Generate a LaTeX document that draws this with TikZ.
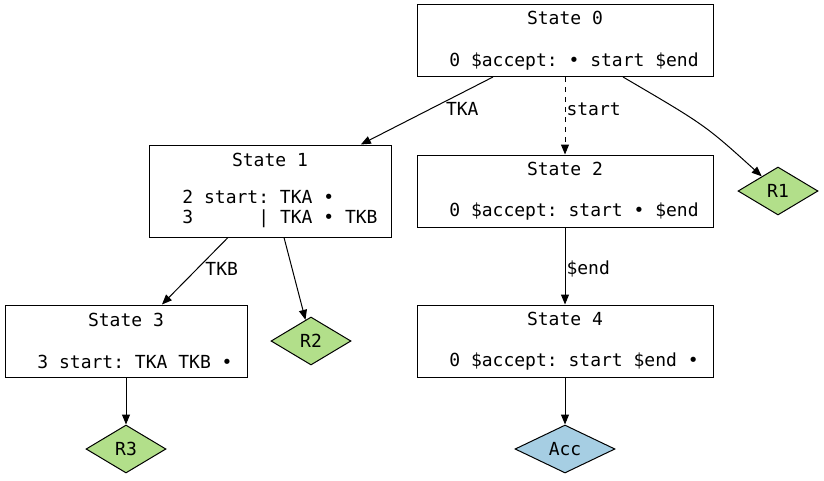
\documentclass[tikz,border=0pt]{standalone}
\usepackage{fontspec}
\setmonofont{DejaVu Sans Mono}
\usetikzlibrary{shapes, arrows.meta, positioning}

\definecolor{reducegreen}{HTML}{B2DF8A}
\definecolor{acceptblue}{HTML}{A6CEE3}

\begin{document}
\begin{tikzpicture}[x=1pt, y=-1pt, line width=1pt,
        state/.style={draw, rectangle, minimum width=296pt, minimum height=72pt, inner sep=0pt,
            align=center, font=\ttfamily\fontsize{18}{19.5}\selectfont},
        reduce/.style={draw, diamond, fill=reducegreen, minimum width=80pt, minimum height=48pt,
            inner sep=0pt, font=\ttfamily\fontsize{18}{19.5}\selectfont},
        lbl/.style={inner sep=1pt, font=\ttfamily\fontsize{18}{19.5}\selectfont},
        arr/.style={-{Triangle[length=10pt, width=8pt]}}
    ]
        \useasboundingbox (0,0) rectangle (824,480);
        % states
        \node[state] (s0) at (565,40.5) {State 0\\[22pt]\hspace*{18pt}0 \$accept: \textbullet{} start \$end};
        \node[state, minimum width=242pt, minimum height=92pt] (s1) at (270,191)
            {State 1\\[22pt]\hspace*{20pt}{\begin{tabular}{@{}l@{}}2 start: TKA \textbullet\\3~~~~~~| TKA \textbullet{} TKB\end{tabular}}};
        \node[state] (s2) at (565,191) {State 2\\[22pt]\hspace*{18pt}0 \$accept: start \textbullet{} \$end};
        \node[state, minimum width=242pt] (s3) at (126,341) {State 3\\[22pt]\hspace*{18pt}3 start: TKA TKB \textbullet};
        \node[state] (s4) at (565,341) {State 4\\[22pt]\hspace*{18pt}0 \$accept: start \$end \textbullet};
        % reductions
        \node[reduce] (r1) at (778,191) {R1};
        \node[reduce] (r2) at (311,341) {R2};
        \node[reduce] (r3) at (126,449) {R3};
        \node[reduce, fill=acceptblue, minimum width=100pt] (acc) at (565,449) {Acc};
        % transitions
        \draw[arr] ([xshift=-72pt]s0.south) -- (s1) node[lbl, pos=0.48, right=15pt] {TKA};
        \draw[arr, dash pattern=on 5pt off 5pt] (s0.south) -- (s2.north) node[lbl, pos=0.42, right] {start};
        \draw[arr] ([xshift=58pt]s0.south) .. controls (705,125) .. (r1);
        \draw[arr] ([xshift=-42pt]s1.south) -- (s3) node[lbl, pos=0.47, right=7pt] {TKB};
        \draw[arr] ([xshift=14pt]s1.south) -- (r2);
        \draw[arr] (s2.south) -- (s4.north) node[lbl, pos=0.54, right] {\$end};
        \draw[arr] (s3.south) -- (r3);
        \draw[arr] (s4.south) -- (acc);
    \end{tikzpicture}
\end{document}
